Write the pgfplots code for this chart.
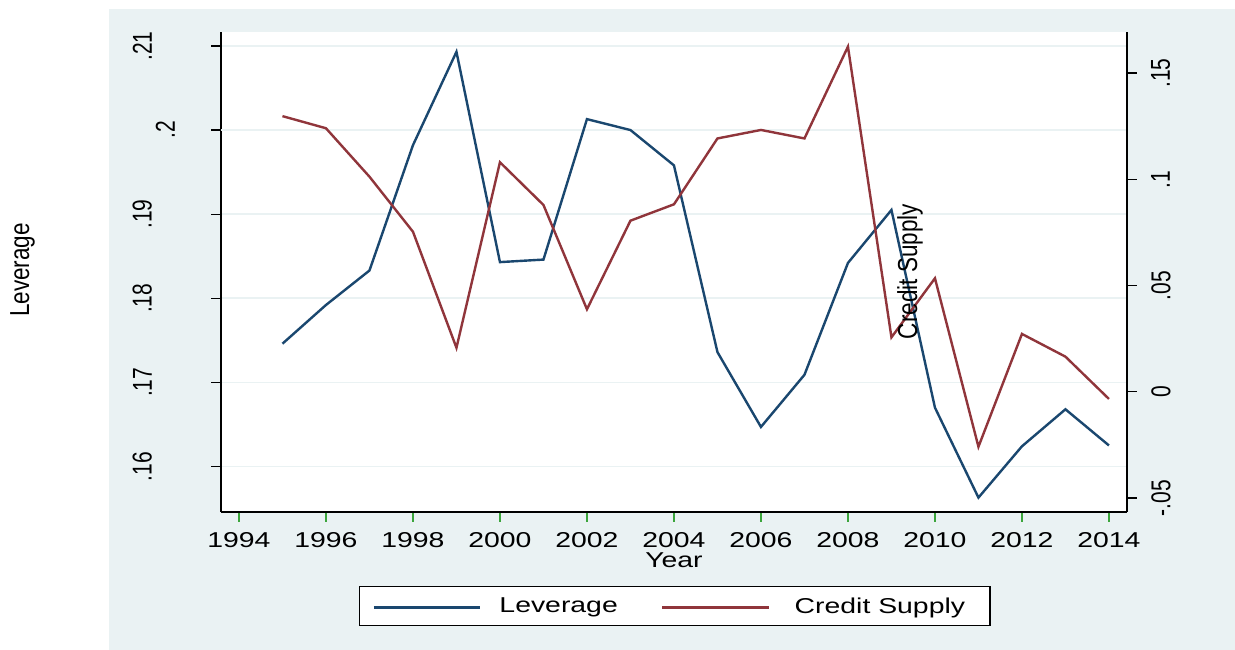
\documentclass[border=0pt]{standalone}
\usepackage{fontspec}
\setmainfont{Liberation Sans}[FakeStretch=1.32]
\newfontfamily\vfont{Liberation Sans}
\usepackage{graphicx}
\usepackage{pgfplots}
\usepackage{pgfplotstable}
\pgfplotsset{compat=1.18}
\definecolor{stnavy}{RGB}{26,71,111}
\definecolor{stmaroon}{RGB}{144,53,59}
\definecolor{stbg}{RGB}{234,242,243}
\definecolor{stgrid}{RGB}{234,242,243}
\definecolor{tickgreen}{RGB}{60,165,60}
\newcommand\hf{\fontsize{21.5pt}{25pt}\selectfont}
\newcommand\vl[1]{\scalebox{1}[1.3]{\vfont\fontsize{21pt}{25pt}\selectfont #1}}
\newcommand\vlab[1]{\scalebox{1}[1.22]{\vfont\fontsize{22.5pt}{26pt}\selectfont #1}}

\pgfplotstableread{
year lev
1995 0.1746
1996 0.1792
1997 0.1833
1998 0.1982
1999 0.2093
2000 0.1843
2001 0.1846
2002 0.2013
2003 0.2000
2004 0.1958
2005 0.1736
2006 0.1647
2007 0.1709
2008 0.1842
2009 0.1905
2010 0.1670
2011 0.1563
2012 0.1624
2013 0.1668
2014 0.1625
}\levtab

\pgfplotstableread{
year cs
1995 0.1297
1996 0.1240
1997 0.1012
1998 0.0753
1999 0.0207
2000 0.1080
2001 0.0879
2002 0.0388
2003 0.0805
2004 0.0882
2005 0.1192
2006 0.1232
2007 0.1192
2008 0.1624
2009 0.0256
2010 0.0534
2011 -0.0259
2012 0.0272
2013 0.0165
2014 -0.0034
}\cstab

\begin{document}
\begin{tikzpicture}
\path[use as bounding box] (-221pt,-138pt) rectangle (1014pt,512pt);
\fill[white] (-221pt,-138pt) rectangle (1014pt,512pt);
\fill[stbg] (-112pt,-138pt) rectangle (1014pt,503pt);
\fill[white] (0pt,0pt) rectangle (906pt,480pt);
\begin{axis}[
  at={(0pt,0pt)}, anchor=south west,
  width=906pt, height=480pt, scale only axis,
  xmin=1993.587, xmax=2014.415,
  ymin=0.15459, ymax=0.21166,
  axis x line*=bottom, axis y line*=left,
  axis line style={-, line width=1.5pt, black},
  tick align=inside, xtick align=inside, ytick align=inside,
  major tick length=-10pt,
  tick style={line width=1.2pt, black},
  xtick style={color=tickgreen},
  xtick={1994,1996,1998,2000,2002,2004,2006,2008,2010,2012,2014},
  xticklabels={1994,1996,1998,2000,2002,2004,2006,2008,2010,2012,2014},
  xticklabel style={font=\hf, anchor=north, inner sep=0pt},
  xticklabel shift=20pt,
  ytick={0.16,0.17,0.18,0.19,0.21},
  yticklabels={\vl{.16},\vl{.17},\vl{.18},\vl{.19},\vl{.21}},
  yticklabel style={rotate=90, anchor=south, inner sep=0pt},
  yticklabel shift=69pt,
  extra y ticks={0.2},
  extra y tick labels={\vl{.2}},
  extra y tick style={yticklabel shift=46pt, major grid style={stgrid, line width=1.6pt}},
  ymajorgrids,
  major grid style={stgrid, line width=1.6pt},
  xlabel={\hf Year},
  xlabel style={at={(axis description cs:0.5,0)}, anchor=north, yshift=-41pt, inner sep=0pt},
  ylabel={\vlab{Leverage}},
  ylabel style={at={(axis description cs:-0.2329,0.504)}, anchor=north, inner sep=0pt},
]
\addplot[stnavy, line width=2.4pt] table[x=year,y=lev]{\levtab};
\end{axis}
\begin{axis}[
  at={(0pt,0pt)}, anchor=south west,
  width=906pt, height=480pt, scale only axis,
  xmin=1993.587, xmax=2014.415,
  ymin=-0.0566, ymax=0.1693,
  hide x axis,
  axis y line*=right,
  axis line style={-, line width=1.5pt, black},
  tick align=inside, ytick align=inside,
  major tick length=-10pt,
  tick style={line width=1.2pt, black},
  ytick={-0.05,0,0.05,0.1,0.15},
  yticklabels={\vl{-.05},\vl{0},\vl{.05},\vl{.1},\vl{.15}},
  yticklabel style={rotate=90, anchor=north, inner sep=0pt},
  yticklabel shift=24pt,
  ylabel={\vlab{Credit Supply}},
  ylabel style={at={(axis description cs:0.7461,0.501)}, anchor=north, inner sep=0pt},
  legend columns=2,
  legend cell align=left,
  legend image code/.code={\draw[#1] (0pt,-1.5pt) -- (106.5pt,-1.5pt);},
  legend style={at={(axis description cs:0.1523,-0.1542)}, anchor=north west,
    draw=black, line width=1.2pt, fill=white, font=\hf,
    inner xsep=13pt, inner ysep=11pt, nodes={inner sep=0pt},
    /tikz/column 1/.style={column sep=18pt},
    /tikz/column 2/.style={column sep=43pt},
    /tikz/column 3/.style={column sep=25pt}},
]
\addlegendimage{stnavy, line width=2.4pt}
\addlegendentry{Leverage}
\addplot[stmaroon, line width=2.4pt] table[x=year,y=cs]{\cstab};
\addlegendentry{Credit Supply\hspace*{12pt}}
\end{axis}
\end{tikzpicture}
\end{document}
